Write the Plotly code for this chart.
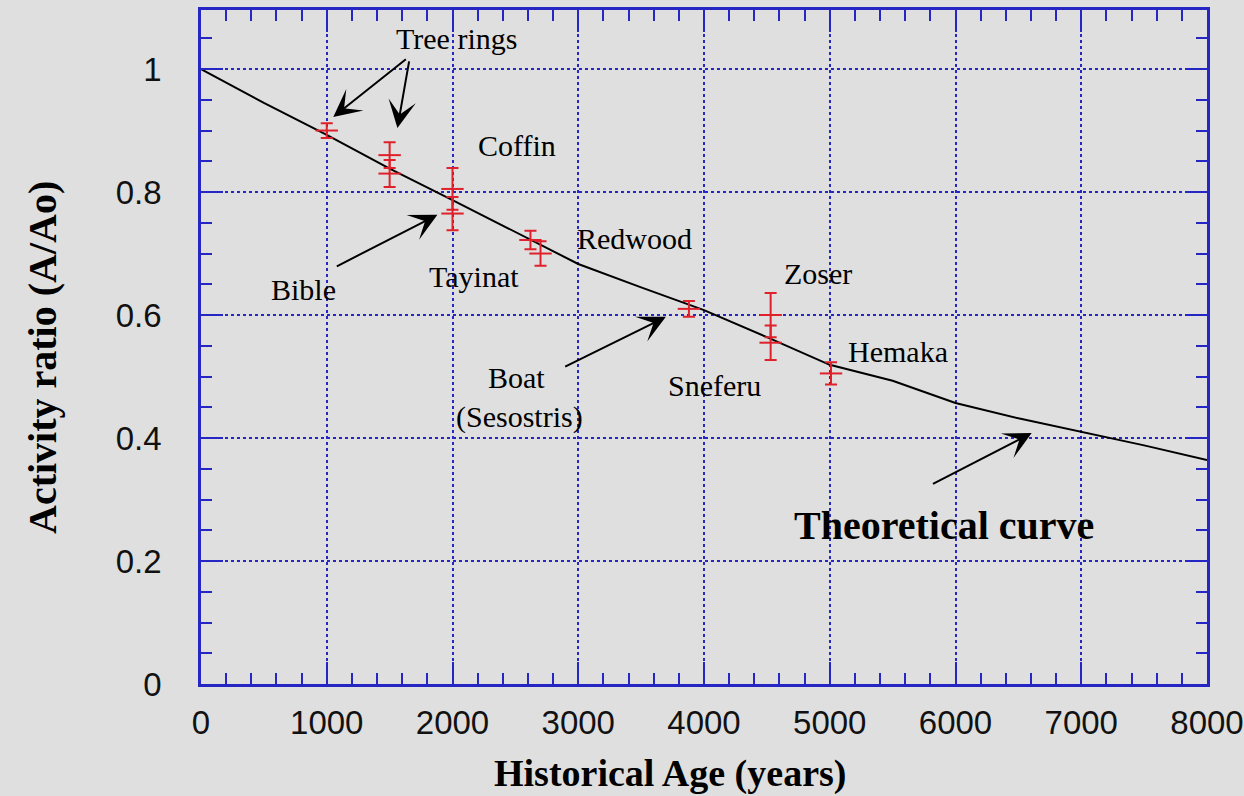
import plotly.graph_objects as go

# Measured samples (historical age in years, activity ratio A/Ao)
sample_age = [1000, 1500, 1500, 2000, 2000, 2620, 2700, 3880, 4530, 4530, 5010]
sample_ratio = [0.900, 0.860, 0.830, 0.805, 0.765, 0.722, 0.700, 0.610, 0.600, 0.555, 0.505]
sample_err = [0.012, 0.021, 0.022, 0.034, 0.027, 0.015, 0.020, 0.013, 0.036, 0.028, 0.018]

# Theoretical curve
curve_age = [0, 500, 1000, 1500, 2000, 2500, 3000, 3500, 4000, 4500, 5000, 5500, 6000, 6500, 7000, 7500, 8000]
curve_ratio = [1.0, 0.945, 0.893, 0.838, 0.787, 0.735, 0.683, 0.645, 0.608, 0.564, 0.519, 0.493, 0.457, 0.432, 0.410, 0.388, 0.364]

x_ticks = [0, 1000, 2000, 3000, 4000, 5000, 6000, 7000, 8000]
y_ticks = [0, 0.2, 0.4, 0.6, 0.8, 1.0]
y_tick_text = ["0", "0.2", "0.4", "0.6", "0.8", "1"]

# Labels: (text, age, ratio, bold)
labels = [
    ("Tree rings", 2032, 1.050, False),
    ("Coffin", 2510, 0.876, False),
    ("Bible", 813, 0.641, False),
    ("Tayinat", 2167, 0.662, False),
    ("Redwood", 3450, 0.725, False),
    ("Zoser", 4908, 0.668, False),
    ("Hemaka", 5546, 0.540, False),
    ("Sneferu", 4080, 0.486, False),
    ("Boat", 2510, 0.498, False),
    ("(Sesostris)", 2534, 0.434, False),
    ("Theoretical curve", 5912, 0.2585, True),
]

# Arrows: (tail age, tail ratio, head age, head ratio)
arrows = [
    (1641, 1.018, 1052, 0.922),
    (1657, 1.015, 1562, 0.904),
    (1068, 0.678, 1880, 0.763),
    (2884, 0.515, 3697, 0.597),
    (5809, 0.324, 6606, 0.408),
]

BLUE = "#2626c4"
RED = "#e0202a"
BG = "#dfdfdf"

L, T, PW, PH = 201, 10, 1006, 674
W, H = 1244, 796

fig = go.Figure()
fig.add_trace(go.Scatter(
    x=curve_age, y=curve_ratio, mode="lines",
    line=dict(color="black", width=2), showlegend=False, hoverinfo="skip"))
fig.add_trace(go.Scatter(
    x=sample_age, y=sample_ratio, mode="markers",
    marker=dict(symbol="line-ew", size=16, line=dict(color=RED, width=2), color=RED),
    error_y=dict(type="data", array=sample_err, color=RED, thickness=2, width=6),
    showlegend=False))

annotations = []
for text, ax_, ay_, bold in labels:
    annotations.append(dict(
        x=ax_, y=ay_, xref="x", yref="y", showarrow=False,
        text=("<b>%s</b>" % text) if bold else text,
        font=dict(family="Liberation Serif", size=40 if bold else 30, color="black"),
        xanchor="center", yanchor="middle"))
for tx, ty, hx, hy in arrows:
    annotations.append(dict(
        x=hx, y=hy, xref="x", yref="y", ax=tx, ay=ty, axref="x", ayref="y",
        text="", showarrow=True, arrowhead=3, arrowsize=2.3, arrowwidth=2,
        arrowcolor="black", standoff=0, startstandoff=0))

# Axis titles
annotations.append(dict(
    x=(670 - L) / PW, y=(T + PH - 773) / PH, xref="paper", yref="paper",
    text="<b>Historical Age (years)</b>", showarrow=False,
    font=dict(family="Liberation Serif", size=38, color="black"),
    xanchor="center", yanchor="middle"))
annotations.append(dict(
    x=(42 - L) / PW, y=(T + PH - 358) / PH, xref="paper", yref="paper",
    text="<b>Activity ratio (A/Ao)</b>", showarrow=False, textangle=-90,
    font=dict(family="Liberation Serif", size=40, color="black"),
    xanchor="center", yanchor="middle"))

axis_common = dict(
    showline=True, linecolor=BLUE, linewidth=2.5, mirror="allticks",
    ticks="inside", ticklen=22, tickwidth=2, tickcolor=BLUE,
    showgrid=True, gridcolor=BLUE, griddash="dot", gridwidth=2,
    zeroline=False, automargin=False, ticklabeloverflow="allow",
    tickfont=dict(family="Liberation Sans", size=33, color="#111111"),
)

fig.update_xaxes(
    range=[0, 8000], tickmode="array", tickvals=x_ticks,
    minor=dict(ticks="inside", ticklen=11, tickwidth=2, tickcolor=BLUE, dtick=200, showgrid=False),
    ticklabelstandoff=8,
    **axis_common)
fig.update_yaxes(
    range=[0, 1.096], tickmode="array", tickvals=y_ticks, ticktext=y_tick_text,
    minor=dict(ticks="inside", ticklen=11, tickwidth=2, tickcolor=BLUE, dtick=0.05, showgrid=False),
    ticklabelstandoff=30,
    **axis_common)

fig.update_layout(
    width=W, height=H, autosize=False,
    margin=dict(l=L, r=W - L - PW, t=T, b=H - T - PH, pad=0),
    paper_bgcolor=BG, plot_bgcolor=BG,
    annotations=annotations,
    showlegend=False,
)

fig.write_html(
    "out.html",
    config={"responsive": False, "displayModeBar": False},
    post_script="document.body.style.margin='0';document.body.style.overflow='hidden';document.body.style.background='%s';" % BG,
)
